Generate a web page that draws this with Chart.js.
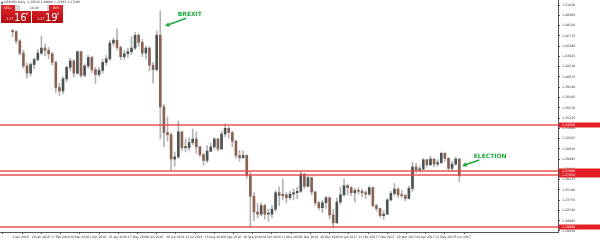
<!DOCTYPE html>
<html>
<head>
<meta charset="utf-8">
<script src="https://cdn.jsdelivr.net/npm/chart.js@4.4.0/dist/chart.umd.min.js"></script>
<style>
html, body { margin: 0; padding: 0; background: #fff; overflow: hidden; }
canvas { display: block; }
</style>
</head>
<body>
<canvas id="mycanvas" width="600" height="240"></canvas>
<script>
// GBPUSD daily, one candle per 3 trading days (Jan 2016 - 9 Jun 2017)
var firstOpen = 1.4736;
var closes = [
	1.4730, 1.4600, 1.4430, 1.4250, 1.4150, 1.4270, 1.4340, 1.4430, 1.4500, 1.4470,
	1.4420, 1.4300, 1.3950, 1.3900, 1.4070, 1.4230, 1.4320, 1.4150, 1.4450, 1.4120,
	1.4250, 1.4370, 1.4200, 1.4130, 1.4190, 1.4300, 1.4350, 1.4570, 1.4610, 1.4510,
	1.4380, 1.4420, 1.4450, 1.4500, 1.4680, 1.4580, 1.4430, 1.4500, 1.4260, 1.4200,
	1.4680, 1.3680, 1.3320, 1.3290, 1.2950, 1.2980, 1.3330, 1.3110, 1.3110, 1.3180,
	1.3230, 1.3120, 1.3010, 1.2930, 1.3060, 1.3120, 1.3230, 1.3090, 1.3300, 1.3380,
	1.3320, 1.3200, 1.3000, 1.2970, 1.3000, 1.2720, 1.2430, 1.2210, 1.2180, 1.2300,
	1.2180, 1.2180, 1.2250, 1.2480, 1.2440, 1.2450, 1.2410, 1.2460, 1.2480, 1.2500,
	1.2740, 1.2570, 1.2690, 1.2490, 1.2340, 1.2270, 1.2340, 1.2410, 1.2170, 1.2060,
	1.2350, 1.2450, 1.2580, 1.2550, 1.2480, 1.2510, 1.2500, 1.2480, 1.2460, 1.2550,
	1.2300, 1.2260, 1.2160, 1.2180, 1.2380, 1.2470, 1.2530, 1.2450, 1.2440, 1.2400,
	1.2540, 1.2840, 1.2800, 1.2810, 1.2940, 1.2870, 1.2950, 1.2880, 1.2900, 1.3030,
	1.2960, 1.2820, 1.2880, 1.2950, 1.2717
];
var highs = [
	1.4760, 1.4745, 1.4620, 1.4470, 1.4290, 1.4300, 1.4360, 1.4480, 1.4668, 1.4560,
	1.4510, 1.4440, 1.4320, 1.4010, 1.4100, 1.4250, 1.4360, 1.4340, 1.4459, 1.4460,
	1.4280, 1.4400, 1.4390, 1.4230, 1.4230, 1.4340, 1.4400, 1.4610, 1.4640, 1.4770,
	1.4530, 1.4470, 1.4500, 1.4660, 1.4720, 1.4700, 1.4620, 1.4530, 1.4520, 1.4300,
	1.4740, 1.5018, 1.3710, 1.3540, 1.3320, 1.3050, 1.3480, 1.3340, 1.3230, 1.3250,
	1.3370, 1.3330, 1.3130, 1.3030, 1.3140, 1.3170, 1.3250, 1.3240, 1.3340, 1.3445,
	1.3400, 1.3340, 1.3210, 1.3070, 1.3060, 1.3010, 1.2770, 1.2480, 1.2330, 1.2340,
	1.2320, 1.2250, 1.2300, 1.2510, 1.2560, 1.2670, 1.2480, 1.2500, 1.2530, 1.2560,
	1.2775, 1.2750, 1.2710, 1.2700, 1.2500, 1.2360, 1.2370, 1.2430, 1.2420, 1.2250,
	1.2410, 1.2560, 1.2675, 1.2600, 1.2570, 1.2540, 1.2550, 1.2530, 1.2510, 1.2570,
	1.2560, 1.2320, 1.2270, 1.2230, 1.2400, 1.2500, 1.2610, 1.2550, 1.2510, 1.2460,
	1.2570, 1.2905, 1.2890, 1.2850, 1.2960, 1.2950, 1.2990, 1.2960, 1.2940, 1.3048,
	1.3040, 1.2970, 1.2920, 1.2980, 1.2960
];
var lows = [
	1.4660, 1.4560, 1.4400, 1.4220, 1.4080, 1.4110, 1.4210, 1.4320, 1.4410, 1.4390,
	1.4350, 1.4260, 1.3880, 1.3836, 1.3860, 1.4030, 1.4180, 1.4100, 1.4130, 1.4090,
	1.4100, 1.4220, 1.4160, 1.4006, 1.4100, 1.4150, 1.4260, 1.4330, 1.4530, 1.4470,
	1.4340, 1.4340, 1.4370, 1.4410, 1.4480, 1.4520, 1.4380, 1.4350, 1.4180, 1.4013,
	1.4180, 1.3229, 1.3122, 1.3200, 1.2798, 1.2850, 1.2960, 1.3070, 1.3050, 1.3070,
	1.3150, 1.3030, 1.2980, 1.2866, 1.2900, 1.3050, 1.3090, 1.3060, 1.3080, 1.3260,
	1.3240, 1.3120, 1.2960, 1.2920, 1.2960, 1.2680, 1.1995, 1.2090, 1.2130, 1.2160,
	1.2110, 1.2080, 1.2130, 1.2220, 1.2300, 1.2380, 1.2340, 1.2380, 1.2380, 1.2400,
	1.2480, 1.2540, 1.2560, 1.2450, 1.2300, 1.2240, 1.2200, 1.2260, 1.2110, 1.1986,
	1.2050, 1.2320, 1.2430, 1.2450, 1.2440, 1.2350, 1.2460, 1.2420, 1.2400, 1.2440,
	1.2280, 1.2220, 1.2130, 1.2109, 1.2170, 1.2360, 1.2440, 1.2410, 1.2410, 1.2365,
	1.2390, 1.2500, 1.2760, 1.2770, 1.2800, 1.2840, 1.2860, 1.2840, 1.2850, 1.2890,
	1.2920, 1.2790, 1.2780, 1.2860, 1.2635
];
var dateTicks = [
	"4 Jan 2016", "26 Jan 2016", "17 Feb 2016", "10 Mar 2016", "1 Apr 2016", "25 Apr 2016",
	"17 May 2016", "8 Jun 2016", "30 Jun 2016", "22 Jul 2016", "15 Aug 2016", "6 Sep 2016",
	"28 Sep 2016", "20 Oct 2016", "11 Nov 2016", "5 Dec 2016", "28 Dec 2016", "20 Jan 2017",
	"13 Feb 2017", "7 Mar 2017", "29 Mar 2017", "20 Apr 2017", "12 May 2017", "5 Jun 2017"
];
var priceTicks = [
	1.51020, 1.49585, 1.48150, 1.46715, 1.45280, 1.43845, 1.42410, 1.40975, 1.39540, 1.38105,
	1.36670, 1.35235, 1.33800, 1.32365, 1.30930, 1.29495, 1.28060, 1.26625, 1.25190, 1.23755,
	1.22320, 1.20885, 1.19450
];
var levels = [1.34250, 1.27900, 1.27250, 1.19980];

var notes = [
	{ text: "BREXIT", at: [137.5, 1.4976], from: [144.5, 1.4918], to: [126.9, 1.4808] },
	{ text: "ELECTION", at: [384, 1.2992], from: [388.5, 1.2936], to: [374.3, 1.2853] }
];

var bodies = [], wicks = [], bodyColors = [];
for (var i = 0; i < closes.length; i++) {
	var op = i === 0 ? firstOpen : closes[i - 1];
	bodies.push({ x: i * 3, y: [op, closes[i]] });
	wicks.push({ x: i * 3, y: [lows[i], highs[i]] });
	bodyColors.push(closes[i] >= op ? '#4b5353' : '#8a6254');
}

function arrow(ctx, x1, y1, x2, y2) {
	var a = Math.atan2(y2 - y1, x2 - x1);
	ctx.beginPath();
	ctx.moveTo(x1, y1);
	ctx.lineTo(x2 - Math.cos(a) * 3, y2 - Math.sin(a) * 3);
	ctx.stroke();
	ctx.beginPath();
	ctx.moveTo(x2, y2);
	ctx.lineTo(x2 - 5 * Math.cos(a - 0.5), y2 - 5 * Math.sin(a - 0.5));
	ctx.lineTo(x2 - 5 * Math.cos(a + 0.5), y2 - 5 * Math.sin(a + 0.5));
	ctx.closePath();
	ctx.fill();
}

function drawPanel(ctx) {
	ctx.save();
	ctx.textBaseline = 'middle';
	ctx.fillStyle = '#333';
	ctx.font = '3px "DejaVu Sans"';
	ctx.fillText('\u25B2 GBPUSD,Daily  1.29516 1.29600 1.27055 1.27166', 1, 2);

	var g = ctx.createLinearGradient(0, 5, 0, 23);
	g.addColorStop(0, '#e2282d');
	g.addColorStop(1, '#b10a10');
	ctx.fillStyle = g;
	ctx.fillRect(1, 5, 30, 18);
	ctx.fillRect(32, 5, 31, 18);
	ctx.fillStyle = '#d6d6d6';
	ctx.fillRect(15, 5, 5, 6);
	ctx.fillRect(47, 5, 2, 6);
	ctx.fillStyle = '#fff';
	ctx.fillRect(20, 5, 27, 6);

	ctx.fillStyle = '#fff';
	ctx.font = '3px "DejaVu Sans"';
	ctx.fillText('SELL', 4, 8);
	ctx.fillText('BUY', 53, 8);
	ctx.fillStyle = '#333';
	ctx.fillText('10.00', 30, 8);

	ctx.fillStyle = '#fff';
	ctx.font = '3.5px "DejaVu Sans"';
	ctx.fillText('1.27', 6, 19);
	ctx.fillText('1.27', 37, 19);
	ctx.font = '10px "DejaVu Sans"';
	ctx.fillText('16', 14, 18);
	ctx.fillText('19', 45, 18);
	ctx.font = '3.5px "DejaVu Sans"';
	ctx.fillText('6', 26, 14);
	ctx.fillText('6', 57, 14);
	ctx.restore();
}

var overlay = {
	id: 'overlay',
	afterDatasetsDraw: function(chart) {
		var ctx = chart.ctx, a = chart.chartArea, ys = chart.scales.y;
		ctx.save();
		ctx.strokeStyle = 'rgba(232, 70, 70, 0.7)';
		ctx.lineWidth = 2;
		levels.forEach(function(v) {
			var y = Math.round(ys.getPixelForValue(v));
			ctx.beginPath();
			ctx.moveTo(a.left, y);
			ctx.lineTo(a.right, y);
			ctx.stroke();
		});
		ctx.restore();
	},
	afterDraw: function(chart) {
		var ctx = chart.ctx, a = chart.chartArea, xs = chart.scales.x, ys = chart.scales.y;
		ctx.save();
		// price boxes on the axis
		ctx.font = '3.2px "DejaVu Sans"';
		ctx.textBaseline = 'middle';
		levels.forEach(function(v) {
			var y = Math.round(ys.getPixelForValue(v));
			ctx.fillStyle = '#e31e24';
			ctx.fillRect(a.right + 1, y - 2.5, 600 - a.right, 5);
			ctx.fillStyle = '#fff';
			ctx.fillText(v.toFixed(5), a.right + 4, y);
		});
		// annotations
		ctx.fillStyle = '#1fa83c';
		ctx.strokeStyle = '#1fa83c';
		ctx.lineWidth = 1.5;
		ctx.font = 'bold 6px "DejaVu Sans"';
		notes.forEach(function(n) {
			ctx.fillText(n.text, xs.getPixelForValue(n.at[0]), ys.getPixelForValue(n.at[1]));
			arrow(ctx, xs.getPixelForValue(n.from[0]), ys.getPixelForValue(n.from[1]),
				xs.getPixelForValue(n.to[0]), ys.getPixelForValue(n.to[1]));
		});
		ctx.restore();
		drawPanel(ctx);
	}
};

var ctx = document.getElementById('mycanvas');
var chart = new Chart(ctx, {
	type: 'bar',
	data: {
		datasets: [
			{ data: bodies, backgroundColor: bodyColors, barThickness: 2, minBarLength: 1, grouped: false, order: 0 },
			{ data: wicks, backgroundColor: '#b3b3b3', barThickness: 1, grouped: false, order: 1 }
		]
	},
	options: {
		responsive: false,
		animation: false,
		devicePixelRatio: 1,
		layout: { padding: 0 },
		plugins: { legend: { display: false }, tooltip: { enabled: false } },
		scales: {
			x: {
				type: 'linear',
				min: -0.8,
				max: 444.5,
				afterBuildTicks: function(scale) {
					scale.ticks = dateTicks.map(function(t, k) { return { value: k * 16 }; });
				},
				afterFit: function(scale) {
					scale.height = 8;
					scale.paddingLeft = 0;
					scale.paddingRight = 0;
				},
				ticks: {
					autoSkip: false,
					maxRotation: 0,
					align: 'start',
					padding: 1,
					color: '#333',
					font: { family: 'DejaVu Sans', size: 3 },
					callback: function(v) { return dateTicks[Math.round(v / 16)]; }
				},
				grid: { drawOnChartArea: false, drawTicks: true, tickLength: 2, color: '#555' },
				border: { display: true, color: '#555' }
			},
			y: {
				position: 'right',
				min: 1.1931,
				max: 1.5172,
				afterBuildTicks: function(scale) {
					scale.ticks = priceTicks.map(function(v) { return { value: v }; });
				},
				afterFit: function(scale) {
					scale.width = 42;
					scale.paddingTop = 0;
					scale.paddingBottom = 0;
				},
				ticks: {
					autoSkip: false,
					padding: 2,
					color: '#333',
					font: { family: 'DejaVu Sans', size: 3.2 },
					callback: function(v) { return v.toFixed(5); }
				},
				grid: { drawOnChartArea: false, drawTicks: true, tickLength: 2, color: '#555' },
				border: { display: true, color: '#555' }
			}
		}
	},
	plugins: [overlay]
});
</script>
</body>
</html>
